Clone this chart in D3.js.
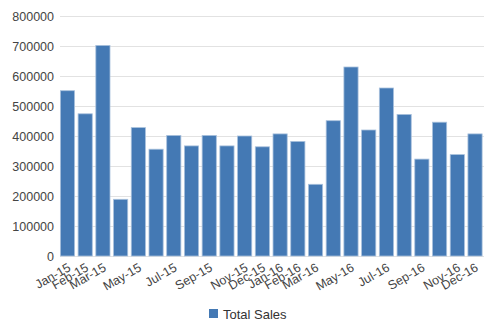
<!DOCTYPE html>
<html>
<head>
<meta charset="utf-8">
<script src="https://cdn.jsdelivr.net/npm/d3@7"></script>
<style>
  html, body { margin: 0; padding: 0; background: #ffffff; }
  svg { display: block; font-family: "Liberation Sans", Arial, sans-serif; }
</style>
</head>
<body>
<svg id="chart" width="488" height="330"></svg>
<script>
// Monthly totals, Jan 2015 - Dec 2016
const months = ["Jan-15","Feb-15","Mar-15","Apr-15","May-15","Jun-15","Jul-15","Aug-15","Sep-15","Oct-15","Nov-15","Dec-15",
                "Jan-16","Feb-16","Mar-16","Apr-16","May-16","Jun-16","Jul-16","Aug-16","Sep-16","Oct-16","Nov-16","Dec-16"];
const totalSales = [551000, 474000, 702000, 189000, 428000, 356000, 402000, 367000, 402000, 367000, 400000, 364000,
                    407000, 382000, 239000, 451000, 630000, 420000, 560000, 472000, 323000, 446000, 338000, 407000];
// Months that get a label on the category axis
const shownLabels = ["Jan-15","Feb-15","Mar-15","May-15","Jul-15","Sep-15","Nov-15","Dec-15",
                     "Jan-16","Feb-16","Mar-16","May-16","Jul-16","Sep-16","Nov-16","Dec-16"];
const yTicks = [0, 100000, 200000, 300000, 400000, 500000, 600000, 700000, 800000];
const seriesName = "Total Sales";

const svg = d3.select("#chart");
const W = 488, H = 330;
const plot = { left: 60, right: 484, top: 16, bottom: 256 };

const x = d3.scaleBand()
  .domain(months)
  .range([59.5, 483])
  .paddingInner(0.2)
  .paddingOuter(0.05);

const y = d3.scaleLinear()
  .domain([0, 800000])
  .range([plot.bottom, plot.top]);

// horizontal grid lines
svg.append("g")
  .selectAll("line")
  .data(yTicks)
  .join("line")
  .attr("x1", plot.left)
  .attr("x2", plot.right)
  .attr("y1", d => Math.round(y(d)) + 0.5)
  .attr("y2", d => Math.round(y(d)) + 0.5)
  .attr("stroke", "#e2e2e2")
  .attr("stroke-width", 1);

// y axis labels
const yAxis = d3.axisLeft(y).tickValues(yTicks).tickSize(0).tickPadding(6).tickFormat(d3.format("d"));
svg.append("g")
  .attr("transform", `translate(${plot.left},0)`)
  .call(yAxis)
  .call(g => g.select(".domain").remove())
  .call(g => g.selectAll("text")
    .attr("fill", "#444")
    .attr("font-size", "12.5px")
    .attr("font-family", "'Liberation Sans', Arial, sans-serif"));

// bars
svg.append("g")
  .selectAll("rect")
  .data(totalSales)
  .join("rect")
  .attr("x", (d, i) => x(months[i]))
  .attr("width", x.bandwidth())
  .attr("y", d => y(d))
  .attr("height", d => y(0) - y(d))
  .attr("fill", "#4479b4")
  .attr("stroke", "#a9c1dd")
  .attr("stroke-width", 0.8);

// category labels, rotated
const xAxis = d3.axisBottom(x)
  .tickValues(shownLabels)
  .tickSize(0)
  .tickPadding(0);
svg.append("g")
  .attr("transform", `translate(0,${y(0)})`)
  .call(xAxis)
  .call(g => g.select(".domain").remove())
  .call(g => g.selectAll("text")
    .attr("fill", "#444")
    .attr("font-size", "12.5px")
    .attr("font-family", "'Liberation Sans', Arial, sans-serif")
    .attr("text-anchor", "end")
    .attr("dy", null)
    .attr("y", 0)
    .attr("transform", "translate(4,14) rotate(-30)"));

// legend
const legend = svg.append("g").attr("transform", "translate(209,309)");
legend.append("rect")
  .attr("width", 9).attr("height", 9)
  .attr("fill", "#4479b4");
legend.append("text")
  .attr("x", 14).attr("y", 9.5)
  .attr("fill", "#333")
  .attr("font-size", "13px")
  .text(seriesName);
</script>
</body>
</html>
